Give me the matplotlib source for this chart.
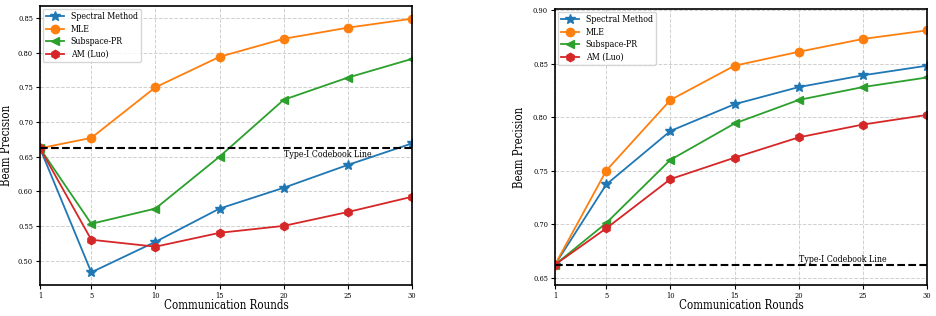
import numpy as np
import matplotlib.pyplot as plt

plt.rcParams['font.family'] = 'DejaVu Serif'
plt.rcParams['font.stretch'] = 'condensed'

rounds = [1, 5, 10, 15, 20, 25, 30]
labels = ['Spectral Method', 'MLE', 'Subspace-PR', 'AM (Luo)']
markers = ['*', 'o', '<', 'h']
colors = ['#1f77b4', '#ff7f0e', '#2ca02c', '#d62728']

# left panel
left_spectral = [0.662, 0.483, 0.527, 0.575, 0.605, 0.638, 0.669]
left_mle = [0.662, 0.677, 0.750, 0.794, 0.820, 0.836, 0.849]
left_subspace = [0.662, 0.553, 0.575, 0.650, 0.732, 0.764, 0.791]
left_am = [0.662, 0.530, 0.520, 0.540, 0.550, 0.570, 0.592]

# right panel
right_spectral = [0.662, 0.737, 0.787, 0.812, 0.828, 0.839, 0.848]
right_mle = [0.662, 0.750, 0.816, 0.848, 0.861, 0.873, 0.881]
right_subspace = [0.662, 0.701, 0.760, 0.794, 0.816, 0.828, 0.837]
right_am = [0.662, 0.696, 0.742, 0.762, 0.781, 0.793, 0.802]

codebook = 0.662

fig = plt.figure(figsize=(9.37, 3.16), dpi=100)
ax1 = fig.add_axes([40/937, 1 - 285/316, 372/937, 279/316])
ax2 = fig.add_axes([555/937, 1 - 285/316, 372/937, 276/316])

panels = [
    (ax1, [left_spectral, left_mle, left_subspace, left_am], 'top', -0.003, -0.072),
    (ax2, [right_spectral, right_mle, right_subspace, right_am], 'bottom', 0.001, -0.078),
]

for ax, series, va, off, lx in panels:
    for ys, lab, m, c in zip(series, labels, markers, colors):
        ms = 7.5 if m == '*' else 6
        ax.plot(rounds, ys, marker=m, color=c, label=lab, lw=1.3, ms=ms)
    ax.axhline(codebook, color='black', ls='--', lw=1.5)
    ax.text(20, codebook + off, 'Type-I Codebook Line', fontsize=6.3, va=va, ha='left')
    ax.set_xlim(1, 30)
    ax.set_xticks(rounds)
    ax.grid(True, ls='--', color='#d0d0d0', lw=0.7)
    ax.tick_params(labelsize=5.3, length=3, pad=2)
    ax.set_xlabel('Communication Rounds', fontsize=8.3)
    ax.set_ylabel('Beam Precision', fontsize=8.3)
    ax.xaxis.set_label_coords(0.5, -0.05)
    ax.yaxis.set_label_coords(lx, 0.5)
    ax.legend(loc='upper left', fontsize=6.3, framealpha=0.8, borderaxespad=0.3,
              handlelength=2, labelspacing=0.4)
    for s in ax.spines.values():
        s.set_linewidth(1.2)

ax2.set_ylim(0.643, 0.901)

fig.savefig('out.png', dpi=100)
